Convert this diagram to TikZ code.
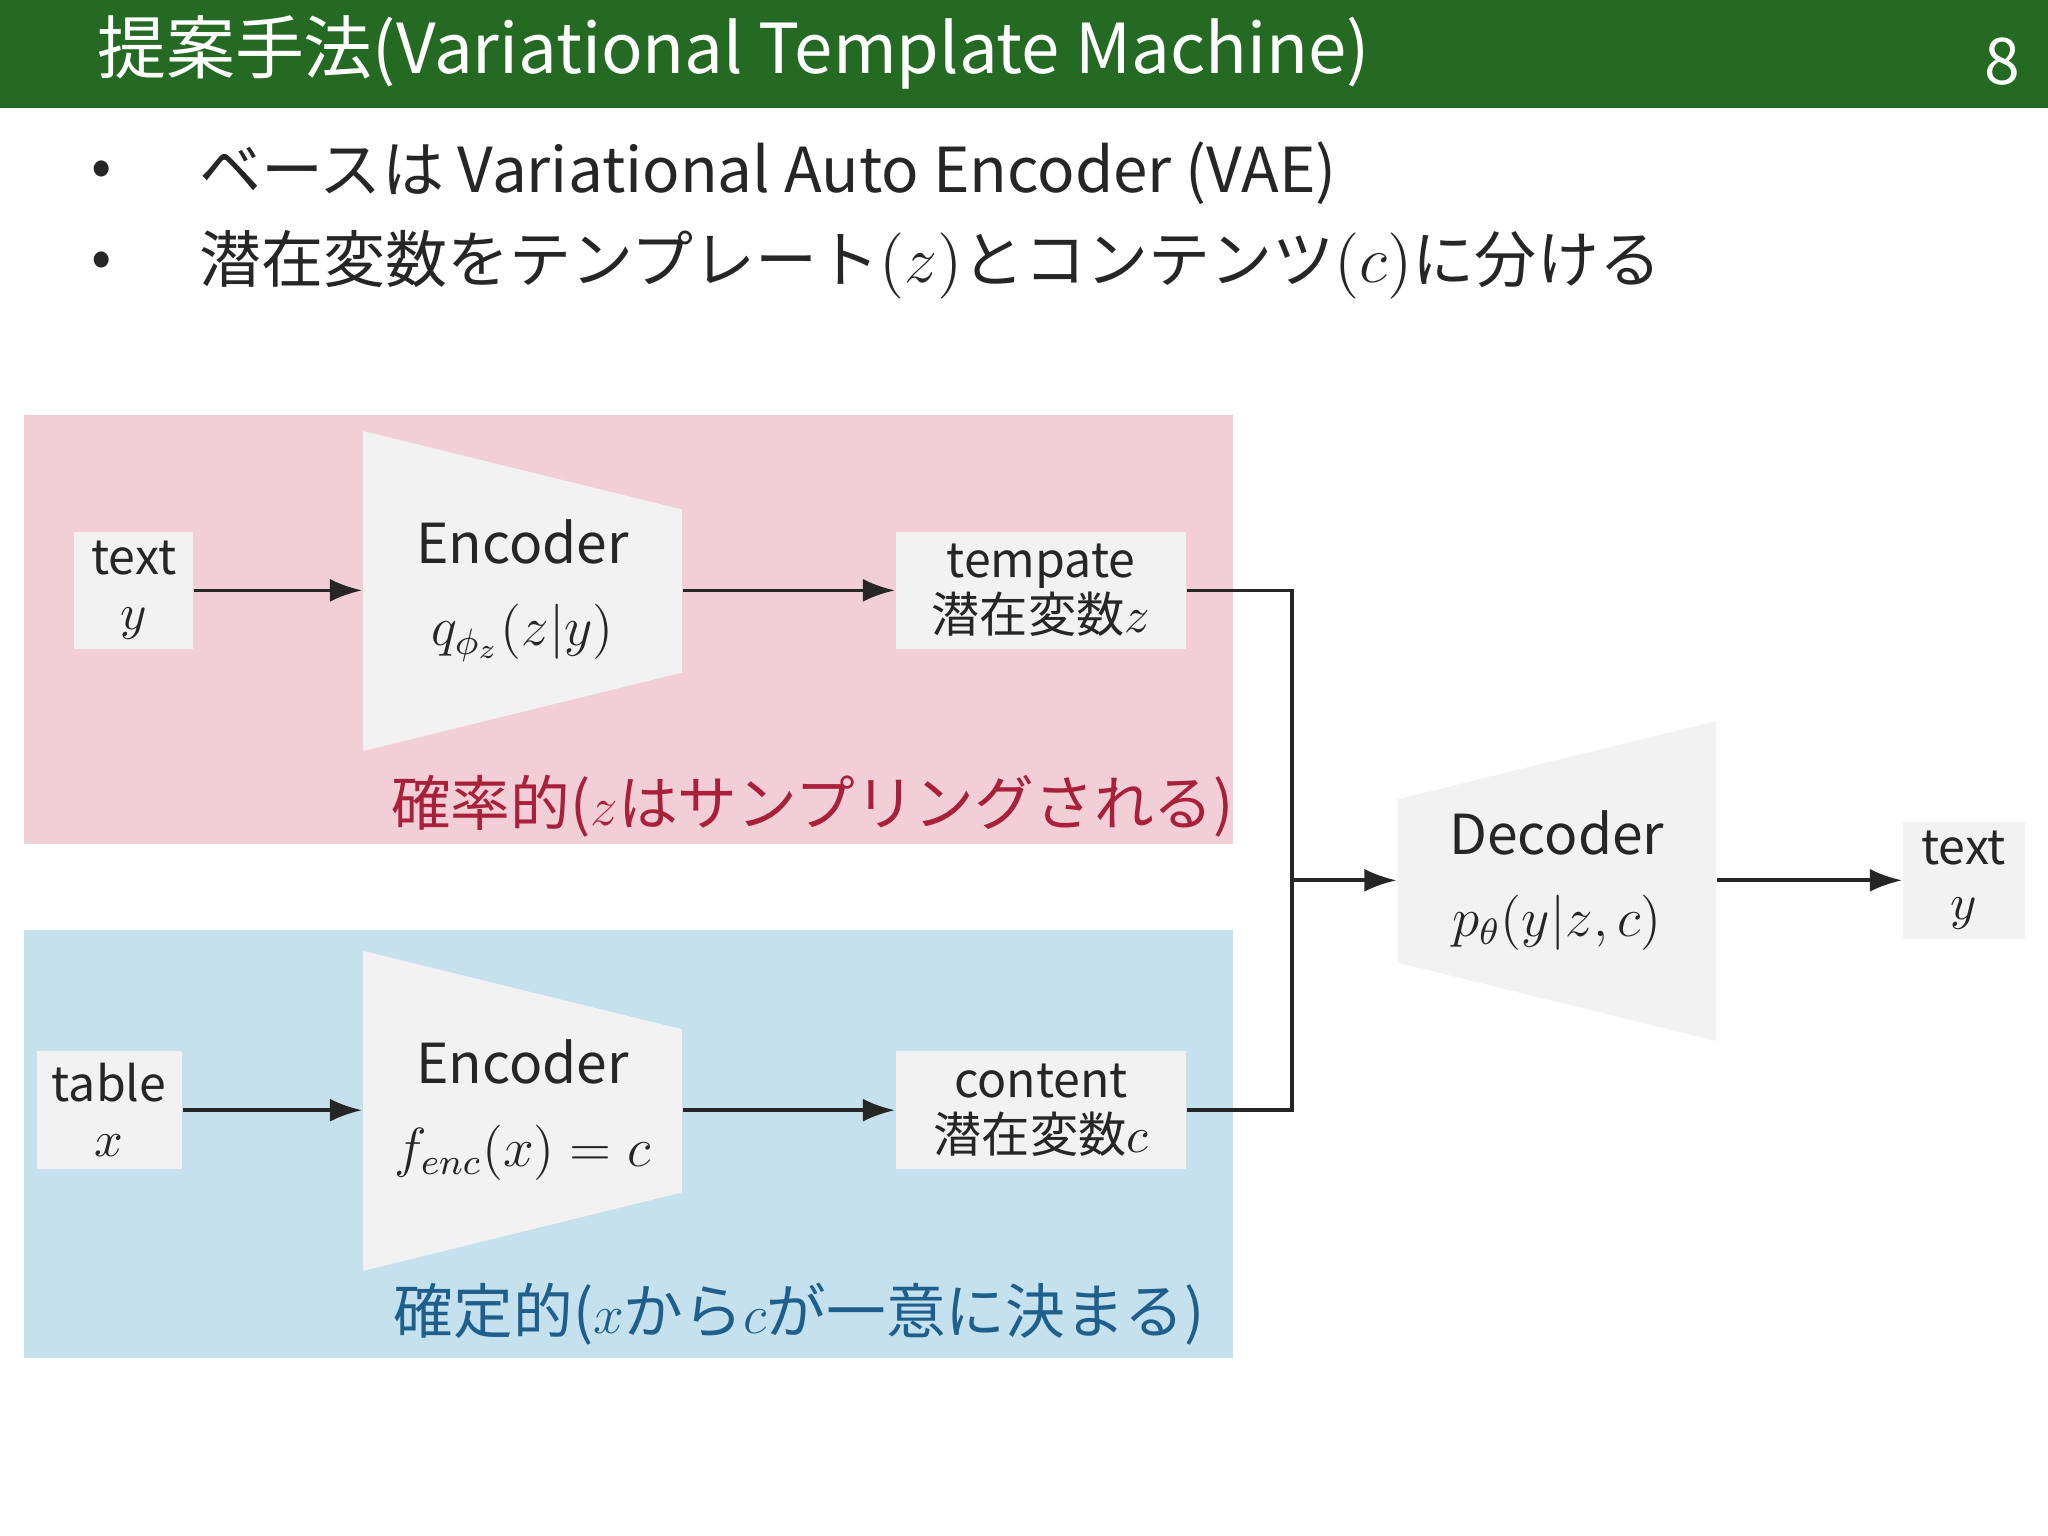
\documentclass[tikz,border=0pt]{standalone}
\usepackage{fontspec}
\setmainfont{Noto Sans CJK JP}
\newfontfamily\jp{Noto Sans CJK JP}
\usetikzlibrary{arrows.meta}
\definecolor{tgreen}{HTML}{246A22}
\definecolor{pinkbg}{HTML}{F2CFD7}
\definecolor{bluebg}{HTML}{C5E1EE}
\definecolor{boxfill}{HTML}{F2F2F2}
\definecolor{redtxt}{HTML}{A8203A}
\definecolor{bluetxt}{HTML}{1F5F8B}
\definecolor{txt}{HTML}{262626}
\tikzset{
 smallbox/.style={fill=boxfill,inner sep=0pt,align=center,text=txt,font=\fontsize{10.5pt}{12pt}\selectfont},
 trap/.style={fill=boxfill,draw=none},
 arr/.style={-{Latex[length=7pt,width=5pt]},line width=0.8pt,draw=txt},
 ln/.style={line width=0.8pt,draw=txt},
}
\begin{document}
\begin{tikzpicture}[x=0.01cm,y=-0.01cm]
\useasboundingbox (0,0) rectangle (1568,1176);
\fill[white] (0,0) rectangle (1568,1176);
\fill[tgreen] (0,0) rectangle (1568,83);
\node[anchor=west,text=white,font=\fontsize{15pt}{17pt}\selectfont] (title) at (62,40) {提案手法(Variational Template Machine)};
\node[text=white,font=\fontsize{14pt}{16pt}\selectfont] (pg) at (1533,47) {8};
\node[text=txt,font=\fontsize{13pt}{15pt}\selectfont] (b1) at (78,133) {•};
\node[text=txt,font=\fontsize{13pt}{15pt}\selectfont] (b2) at (78,203) {•};
\node[anchor=west,text=txt,font=\fontsize{13.5pt}{15pt}\selectfont] (t1) at (140,133) {ベースは Variational Auto Encoder (VAE)};
\node[anchor=west,text=txt,font=\fontsize{13.5pt}{15pt}\selectfont] (t2) at (140,203) {潜在変数をテンプレート$(z)$とコンテンツ$(c)$に分ける};
% backgrounds
\fill[pinkbg] (18,318) rectangle (944,646);
\fill[bluebg] (18,712) rectangle (944,1040);
% trapezoids
\fill[trap] (278,330) -- (522,390) -- (522,515) -- (278,575) -- cycle;
\fill[trap] (278,728) -- (522,788) -- (522,913) -- (278,973) -- cycle;
\fill[trap] (1070,612) -- (1314,552) -- (1314,797) -- (1070,737) -- cycle;
\node[minimum width=2.44cm,minimum height=1.25cm,align=center,text=txt,font=\fontsize{12pt}{18pt}\selectfont] (enc1) at (400,452) {Encoder\\$q_{\phi_z}(z|y)$};
\node[minimum width=2.44cm,minimum height=1.25cm,align=center,text=txt,font=\fontsize{12pt}{18pt}\selectfont] (enc2) at (400,850) {Encoder\\$f_{enc}(x)=c$};
\node[minimum width=2.44cm,minimum height=1.25cm,align=center,text=txt,font=\fontsize{12pt}{18pt}\selectfont] (dec) at (1192,674) {Decoder\\$p_\theta(y|z,c)$};
% small boxes
\node[smallbox,minimum width=0.91cm,minimum height=0.9cm] (ty) at (102.5,452) {text\\$y$};
\node[smallbox,minimum width=1.11cm,minimum height=0.9cm] (tx) at (83.5,850) {table\\$x$};
\node[smallbox,minimum width=2.22cm,minimum height=0.9cm] (tz) at (797,452) {tempate\\潜在変数$z$};
\node[smallbox,minimum width=2.22cm,minimum height=0.9cm] (tc) at (797,850) {content\\潜在変数$c$};
\node[smallbox,minimum width=0.93cm,minimum height=0.9cm] (to) at (1503.5,674) {text\\$y$};
% labels
\node[text=redtxt,font=\fontsize{13pt}{15pt}\selectfont] (lr) at (622,617) {確率的($z$はサンプリングされる)};
\node[text=bluetxt,font=\fontsize{13pt}{15pt}\selectfont] (lb) at (612,1006) {確定的($x$から$c$が一意に決まる)};
% arrows
\draw[arr] (ty.east) -- (enc1.west);
\draw[arr] (enc1.east) -- (tz.west);
\draw[arr] (tx.east) -- (enc2.west);
\draw[arr] (enc2.east) -- (tc.west);
\coordinate (j) at (989,674);
\draw[ln] (tz.east) -| (j);
\draw[ln] (tc.east) -| (j);
\draw[arr] (j) -- (dec.west);
\draw[arr] (dec.east) -- (to.west);
\end{tikzpicture}
\end{document}
